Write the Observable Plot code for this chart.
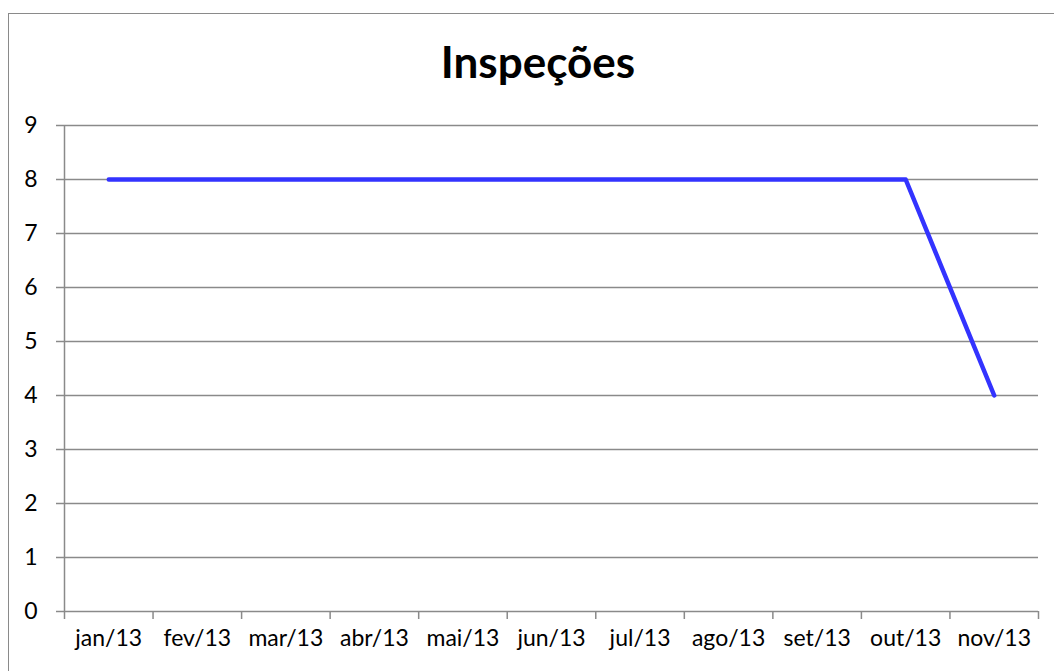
<!DOCTYPE html>
<html><head><meta charset="utf-8">
<script src="https://cdn.jsdelivr.net/npm/d3@7"></script>
<script src="https://cdn.jsdelivr.net/npm/@observablehq/plot@0.6"></script>
<style>
html,body{margin:0;padding:0;background:#fff;overflow:hidden;}
#wrap{position:relative;width:1054px;height:671px;}
#frame{position:absolute;left:8px;top:13px;width:1200px;height:800px;border:1.5px solid #8a8a8a;box-sizing:border-box;}
#title{position:absolute;left:0;width:1076px;top:39px;text-align:center;font-family:Lato,sans-serif;font-weight:bold;font-size:44px;color:#000;line-height:1;}
#chart{position:absolute;left:0;top:0;}
</style></head>
<body><div id="wrap"><div id="frame"></div><div id="title">Inspeções</div><div id="chart"></div></div>
<script>
const title = "Inspeções";
const months = ["jan/13","fev/13","mar/13","abr/13","mai/13","jun/13","jul/13","ago/13","set/13","out/13","nov/13"];
const values = [8,8,8,8,8,8,8,8,8,8,4];
const yTicks = [0,1,2,3,4,5,6,7,8,9];

const data = months.map((m,i)=>({i: i+0.5, v: values[i]}));
const grid = "#8a8a8a";
const plot = Plot.plot({
  width: 1054, height: 671,
  marginLeft: 64, marginRight: 16, marginTop: 125, marginBottom: 60,
  style: {fontFamily: "Lato, sans-serif", fontSize: "23px", color: "#000", background: "transparent"},
  x: {domain: [0, months.length], axis: null, label: null},
  y: {domain: [0, 9], axis: null, label: null},
  marks: [
    Plot.ruleY(yTicks, {stroke: grid, strokeWidth: 1.5, strokeOpacity: 1, insetLeft: -8}),
    Plot.ruleX([0], {stroke: grid, strokeWidth: 1.5}),
    Plot.axisX(d3.range(months.length + 1), {tickSize: 8, tickFormat: () => "", label: null, stroke: grid, strokeWidth: 1.5, strokeOpacity: 1}),
    Plot.axisX(data.map(d=>d.i), {tickSize: 0, tickPadding: 18, label: null, tickFormat: (d) => months[Math.floor(d)], fill: "#000"}),
    Plot.axisY(yTicks, {tickSize: 0, tickPadding: 27, label: null, tickFormat: (d) => String(d), fill: "#000"}),
    Plot.lineY(data, {x: "i", y: "v", stroke: "#3333ff", strokeWidth: 4.5, strokeLinejoin: "round"})
  ]
});
document.getElementById("chart").appendChild(plot);
</script></body></html>
